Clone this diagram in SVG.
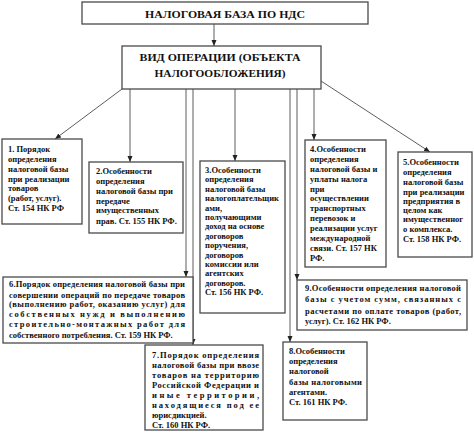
<svg xmlns="http://www.w3.org/2000/svg" width="474" height="435" viewBox="0 0 474 435">
<defs>
<style>
.box{fill:#fff;stroke:#4a4a4a;stroke-width:1.3}
.ln{fill:none;stroke:#333;stroke-width:0.8}
.t{font-weight:bold;font-size:8.5px;fill:#111}
.h{font-weight:bold;font-size:11px;fill:#111}
</style>
<marker id="ar" viewBox="0 0 6 6" refX="6" refY="3" markerWidth="6" markerHeight="6" markerUnits="userSpaceOnUse" orient="auto">
<path d="M0,0.5 L6,3 L0,5.5 Z" fill="#222"/>
</marker>
</defs>
<rect width="474" height="435" fill="#fff"/>

<g id="connectors">
<line class="ln" x1="214" y1="24" x2="214" y2="46" marker-end="url(#ar)"/>
<line class="ln" x1="122" y1="89" x2="55" y2="139" marker-end="url(#ar)"/>
<line class="ln" x1="130" y1="89" x2="130" y2="162" marker-end="url(#ar)"/>
<line class="ln" x1="186" y1="89" x2="186" y2="277" marker-end="url(#ar)"/>
<line class="ln" x1="193" y1="89" x2="193" y2="345" marker-end="url(#ar)"/>
<line class="ln" x1="235" y1="89" x2="235" y2="161" marker-end="url(#ar)"/>
<line class="ln" x1="290" y1="89" x2="290" y2="342" marker-end="url(#ar)"/>
<line class="ln" x1="297" y1="89" x2="297" y2="280" marker-end="url(#ar)"/>
<line class="ln" x1="314" y1="89" x2="314" y2="140" marker-end="url(#ar)"/>
<line class="ln" x1="321" y1="81" x2="430" y2="152" marker-end="url(#ar)"/>
</g>

<g font-family="'Liberation Serif', 'DejaVu Serif', serif">
<g id="top">
<rect class="box" x="82" y="2" width="286" height="22"/>
<text class="h" x="225" y="18" text-anchor="middle" textLength="160" lengthAdjust="spacingAndGlyphs">НАЛОГОВАЯ БАЗА ПО НДС</text>
</g>

<g id="op">
<rect class="box" x="122" y="46" width="199" height="43"/>
<text class="h" x="220" y="61" text-anchor="middle" textLength="161" lengthAdjust="spacingAndGlyphs">ВИД ОПЕРАЦИИ  (ОБЪЕКТА</text>
<text class="h" x="220" y="77" text-anchor="middle" textLength="131" lengthAdjust="spacingAndGlyphs">НАЛОГООБЛОЖЕНИЯ)</text>
</g>

<g id="n1">
<rect class="box" x="2" y="139" width="80" height="85"/>
<text class="t" x="8" y="152">1. Порядок</text>
<text class="t" x="8" y="162">определения</text>
<text class="t" x="8" y="172">налоговой базы</text>
<text class="t" x="8" y="182">при реализации</text>
<text class="t" x="8" y="191">товаров</text>
<text class="t" x="8" y="201">(работ, услуг).</text>
<text class="t" x="8" y="211">Ст. 154  НК РФ</text>
</g>

<g id="n2">
<rect class="box" x="89" y="162" width="94" height="71"/>
<text class="t" x="96" y="174">2.Особенности</text>
<text class="t" x="96" y="184">определения</text>
<text class="t" x="96" y="194">налоговой базы при</text>
<text class="t" x="96" y="204">передаче</text>
<text class="t" x="96" y="213">имущественных</text>
<text class="t" x="96" y="224">прав. Ст. 155 НК РФ.</text>
</g>

<g id="n3">
<rect class="box" x="200" y="161" width="85" height="152"/>
<text class="t" x="205" y="173">3.Особенности</text>
<text class="t" x="205" y="182.4">определения</text>
<text class="t" x="205" y="191.8">налоговой базы</text>
<text class="t" x="205" y="201.2">налогоплательщик</text>
<text class="t" x="205" y="210.6">ами,</text>
<text class="t" x="205" y="220">получающими</text>
<text class="t" x="205" y="229.4">доход на основе</text>
<text class="t" x="205" y="238.8">договоров</text>
<text class="t" x="205" y="248.2">поручения,</text>
<text class="t" x="205" y="257.6">договоров</text>
<text class="t" x="205" y="267">комиссии или</text>
<text class="t" x="205" y="276.4">агентских</text>
<text class="t" x="205" y="285.8">договоров.</text>
<text class="t" x="205" y="295.2">Ст. 156 НК РФ.</text>
</g>

<g id="n4">
<rect class="box" x="305" y="140" width="81" height="127"/>
<text class="t" x="310" y="152">4.Особенности</text>
<text class="t" x="310" y="162">определения</text>
<text class="t" x="310" y="172">налоговой базы и</text>
<text class="t" x="310" y="182">уплаты налога</text>
<text class="t" x="310" y="192">при</text>
<text class="t" x="310" y="201">осуществлении</text>
<text class="t" x="310" y="211">транспортных</text>
<text class="t" x="310" y="221">перевозок и</text>
<text class="t" x="310" y="231">реализации услуг</text>
<text class="t" x="310" y="241">международной</text>
<text class="t" x="310" y="251">связи. Ст. 157 НК</text>
<text class="t" x="310" y="261">РФ.</text>
</g>

<g id="n5">
<rect class="box" x="398" y="152" width="74" height="105"/>
<text class="t" x="403" y="165">5.Особенности</text>
<text class="t" x="403" y="175">определения</text>
<text class="t" x="403" y="185">налоговой базы</text>
<text class="t" x="403" y="195">при реализации</text>
<text class="t" x="403" y="204">предприятия в</text>
<text class="t" x="403" y="213">целом как</text>
<text class="t" x="403" y="222">имущественног</text>
<text class="t" x="403" y="232">о комплекса.</text>
<text class="t" x="403" y="242">Ст. 158 НК РФ.</text>
</g>

<g id="n6">
<rect class="box" x="3" y="277" width="190" height="66"/>
<text class="t" x="9" y="287" textLength="176" lengthAdjust="spacing">6.Порядок определения налоговой базы при</text>
<text class="t" x="9" y="298" textLength="176" lengthAdjust="spacing">совершении операций по передаче товаров</text>
<text class="t" x="9" y="307" textLength="176" lengthAdjust="spacing">(выполнению работ, оказанию услуг) для</text>
<text class="t" x="9" y="317" textLength="176" lengthAdjust="spacing">собственных нужд и выполнению</text>
<text class="t" x="9" y="327" textLength="176" lengthAdjust="spacing">строительно-монтажных работ для</text>
<text class="t" x="9" y="338">собственного потребления. Ст. 159 НК РФ.</text>
</g>

<g id="n7">
<rect class="box" x="145" y="345" width="118" height="85"/>
<text class="t" x="152" y="358" textLength="107" lengthAdjust="spacing">7.Порядок определения</text>
<text class="t" x="152" y="368" textLength="107" lengthAdjust="spacing">налоговой базы при ввозе</text>
<text class="t" x="152" y="378" textLength="107" lengthAdjust="spacing">товаров на территорию</text>
<text class="t" x="152" y="388" textLength="107" lengthAdjust="spacing">Российской Федерации и</text>
<text class="t" x="152" y="398" textLength="107" lengthAdjust="spacing">иные территории,</text>
<text class="t" x="152" y="408" textLength="107" lengthAdjust="spacing">находящиеся под ее</text>
<text class="t" x="152" y="418">юрисдикцией.</text>
<text class="t" x="152" y="428">Ст. 160 НК РФ.</text>
</g>

<g id="n8">
<rect class="box" x="283" y="342" width="84" height="78"/>
<text class="t" x="289" y="354">8.Особенности</text>
<text class="t" x="289" y="364">определения</text>
<text class="t" x="289" y="374">налоговой</text>
<text class="t" x="289" y="385" textLength="73" lengthAdjust="spacing">базы налоговыми</text>
<text class="t" x="289" y="395">агентами.</text>
<text class="t" x="289" y="405">Ст. 161 НК РФ.</text>
</g>

<g id="n9">
<rect class="box" x="297" y="280" width="170" height="50"/>
<text class="t" x="305" y="291" textLength="156" lengthAdjust="spacing">9.Особенности определения налоговой</text>
<text class="t" x="305" y="302" textLength="156" lengthAdjust="spacing">базы с учетом сумм, связанных с</text>
<text class="t" x="305" y="314" textLength="156" lengthAdjust="spacing">расчетами по оплате товаров (работ,</text>
<text class="t" x="305" y="324">услуг). Ст. 162 НК РФ.</text>
</g>
</g>
</svg>
